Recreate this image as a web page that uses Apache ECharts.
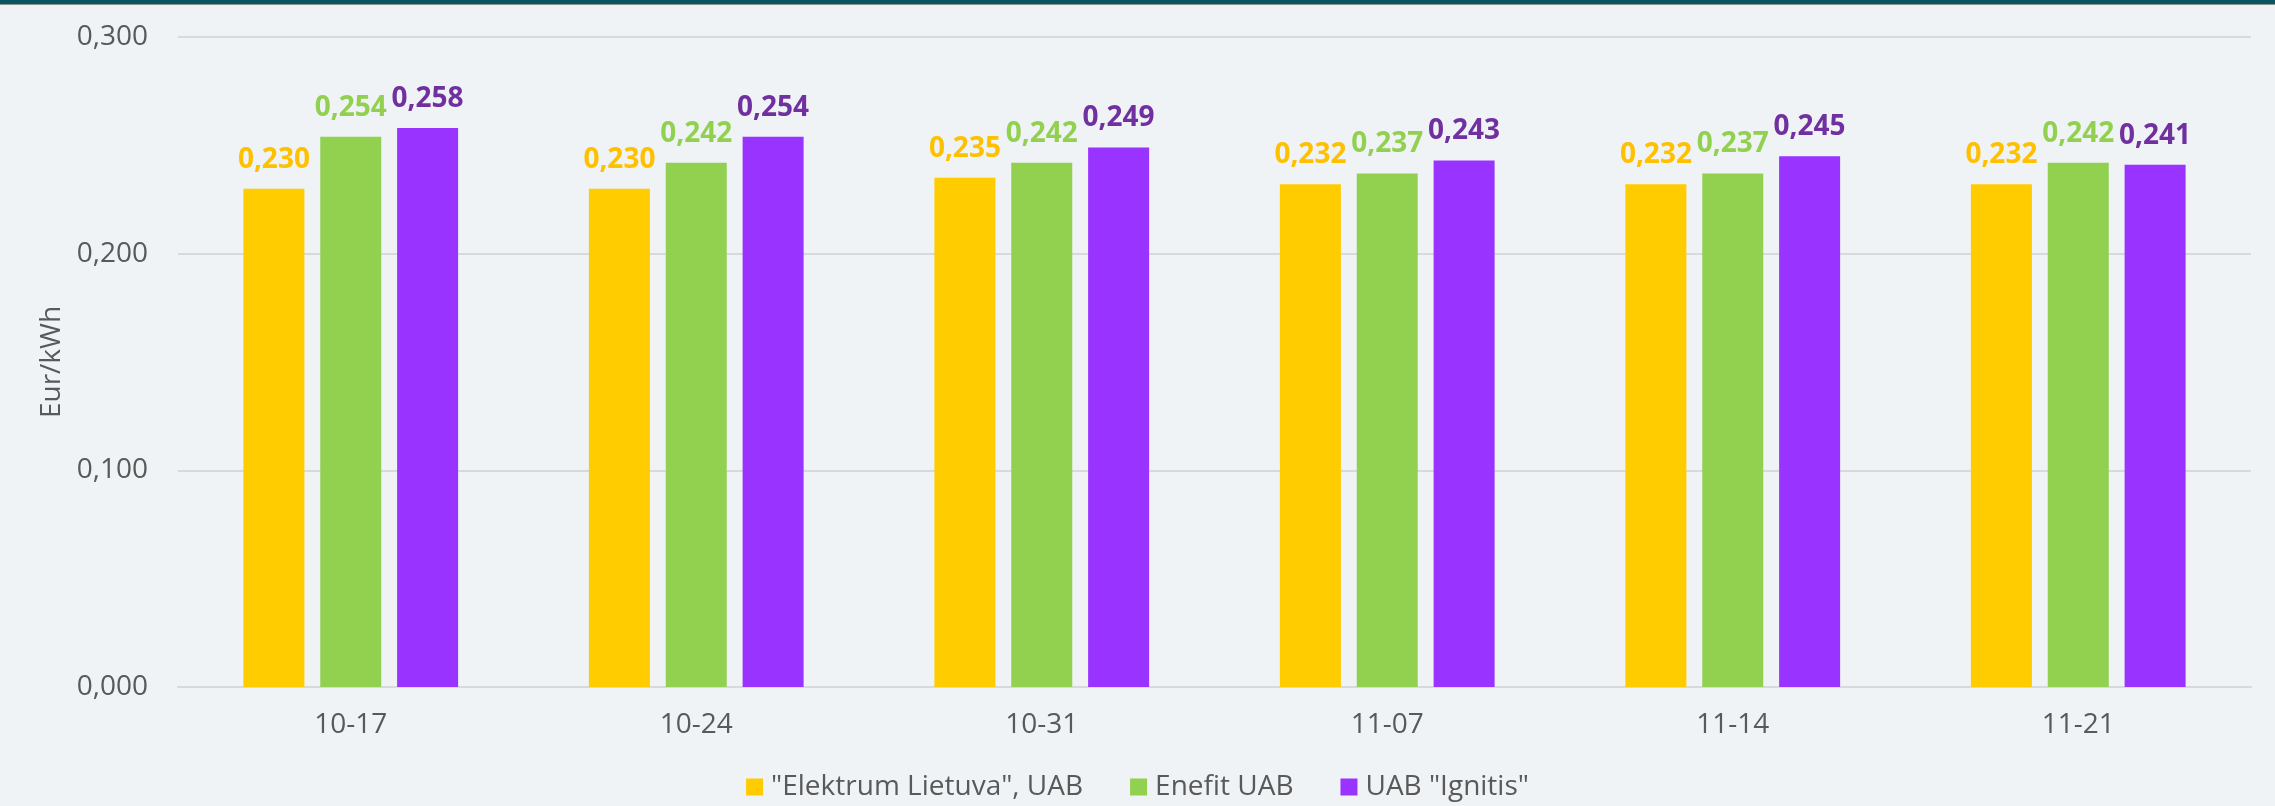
<!DOCTYPE html>
<html>
<head>
<meta charset="utf-8">
<script src="https://cdn.jsdelivr.net/npm/echarts@6/dist/echarts.min.js"></script>
<style>
html,body{margin:0;padding:0;background:#EFF3F6;}
#chart{width:2275px;height:806px;}
</style>
</head>
<body>
<div id="chart"></div>
<script>
const categories = ['10-17', '10-24', '10-31', '11-07', '11-14', '11-21'];
const seriesNames = ['"Elektrum Lietuva", UAB', 'Enefit UAB', 'UAB "Ignitis"'];
const elektrum = [0.230, 0.230, 0.235, 0.232, 0.232, 0.232];
const enefit = [0.254, 0.242, 0.242, 0.237, 0.237, 0.242];
const ignitis = [0.258, 0.254, 0.249, 0.243, 0.245, 0.241];
const yTicks = { min: 0, max: 0.3, interval: 0.1 };
const yAxisName = 'Eur/kWh';

const barColors = ['#FFCC00', '#92D050', '#9933FF'];
const labelColors = ['#FFC000', '#92D050', '#7030A0'];
const FONT = '"Open Sans", sans-serif';
const fmt = v => v.toFixed(3).replace('.', ',');

const chart = echarts.init(document.getElementById('chart'));
const mk = (name, data, i) => ({
  name, type: 'bar', data,
  barWidth: 61, barGap: '26%',
  itemStyle: { color: barColors[i] },
  label: {
    show: true, position: 'top', distance: 15,
    formatter: p => fmt(p.value),
    color: labelColors[i], fontFamily: FONT, fontWeight: 'bold', fontSize: 28
  }
});
chart.setOption({
  backgroundColor: '#EFF3F6',
  animation: false,
  graphic: [
    { type: 'rect', left: 0, top: 0, shape: { width: 2275, height: 4 }, style: { fill: '#0D5560' } },
    { type: 'rect', left: 0, top: 4, shape: { width: 2275, height: 1 }, style: { fill: '#8A9599' } }
  ],
  grid: { left: 178, right: 24, top: 37, bottom: 119, containLabel: false },
  legend: {
    bottom: 0, left: 'center',
    itemWidth: 17, itemHeight: 17, itemGap: 47,
    icon: 'rect',
    textStyle: { color: '#595959', fontFamily: FONT, fontSize: 28, padding: [0, 0, 0, 3] },
    data: seriesNames
  },
  xAxis: {
    type: 'category', data: categories,
    axisLine: { lineStyle: { color: '#D9D9D9', width: 2 } },
    axisTick: { show: false },
    axisLabel: { color: '#595959', fontFamily: FONT, fontSize: 28, margin: 24 }
  },
  yAxis: {
    type: 'value', min: yTicks.min, max: yTicks.max, interval: yTicks.interval,
    name: yAxisName, nameLocation: 'middle', nameGap: 112, nameRotate: 90,
    nameTextStyle: { color: '#595959', fontFamily: FONT, fontSize: 28 },
    axisLine: { show: false }, axisTick: { show: false },
    axisLabel: { color: '#595959', fontFamily: FONT, fontSize: 28, margin: 30, formatter: v => fmt(v) },
    splitLine: { lineStyle: { color: '#D9D9D9', width: 2 } }
  },
  series: [mk(seriesNames[0], elektrum, 0), mk(seriesNames[1], enefit, 1), mk(seriesNames[2], ignitis, 2)]
});
</script>
</body>
</html>
